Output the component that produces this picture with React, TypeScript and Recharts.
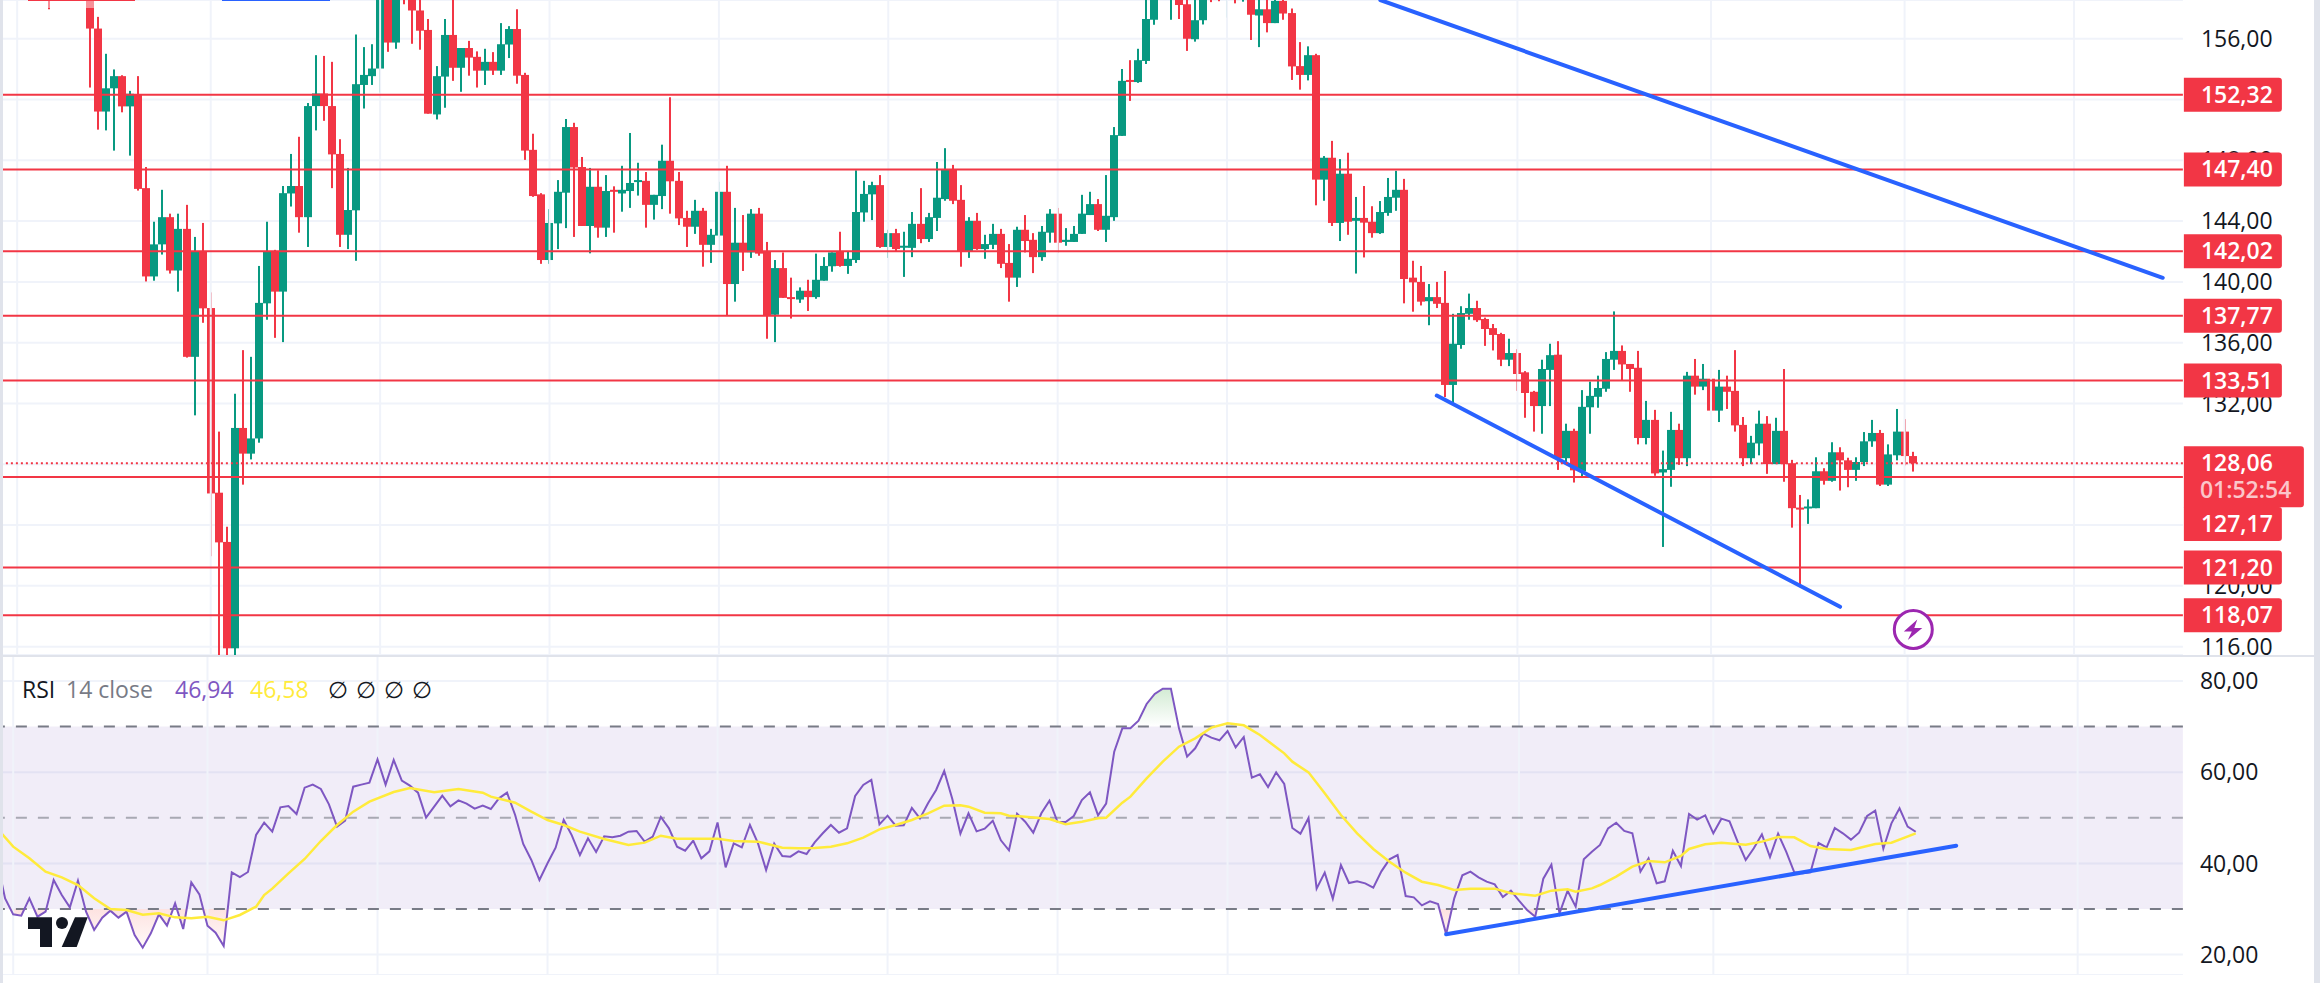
import React from 'react';
import { Area, Bar, CartesianGrid, ComposedChart, Line, ReferenceArea, ReferenceLine, XAxis, YAxis } from 'recharts';

const n = null;

// candles, first one is the faded stub at the top left
const candleOpen = [
  159.4,n,n,n,n,158.6,156.67,151.21,152.74,153.54,
  151.55,152.32,146.17,140.36,142.47,144.26,140.75,143.49,135.07,142.0,
  138.28,126.13,122.89,115.89,130.39,128.7,129.7,138.59,142.0,139.36,
  145.82,146.31,144.26,151.57,152.4,151.57,148.42,143.1,144.71,152.96,
  153.54,154.04,159.0,155.75,159.2,159.2,157.86,156.58,151.02,153.51,
  156.25,154.09,155.39,154.81,153.9,154.48,153.9,155.62,156.64,153.62,
  148.69,145.76,141.44,143.85,145.87,150.19,147.56,143.68,146.26,143.57,
  146.06,145.82,145.98,146.62,146.65,145.07,145.65,147.97,146.65,144.21,
  143.63,144.68,142.44,143.05,145.93,139.86,142.58,141.94,144.49,142.0,
  137.84,140.91,139.0,138.84,139.42,139.0,140.08,141.03,142.0,141.05,
  141.44,144.57,145.76,146.37,142.3,143.21,142.3,142.24,143.82,142.82,
  144.21,145.45,147.42,145.4,142.0,144.02,142.16,142.44,143.16,141.25,
  140.28,143.43,142.77,141.63,143.24,144.49,142.63,142.63,143.16,144.4,
  145.12,143.43,144.26,149.61,153.29,153.15,154.54,157.25,n,158.9,
  158.9,158.27,155.97,157.22,159.2,159.2,158.6,159.2,158.6,159.0,
  157.53,157.94,157.03,158.49,157.69,154.2,153.62,154.92,146.73,148.17,
  143.88,147.12,144.02,144.21,143.96,143.21,144.54,145.54,146.06,140.28,
  140.0,138.73,139.0,138.62,133.22,135.85,137.9,138.28,137.56,136.96,
  136.57,134.88,135.32,134.05,132.77,131.83,134.21,135.21,128.4,130.2,
  127.54,131.75,132.44,132.97,134.88,135.46,134.6,134.35,129.73,130.92,
  127.46,127.63,130.26,128.4,133.83,133.11,133.63,131.53,133.11,132.83,
  130.59,128.4,129.37,130.67,128.01,130.2,128.07,125.15,125.11,125.11,
  127.54,126.91,128.79,128.26,127.63,128.15,129.51,130.06,126.66,128.59,
  130.15,128.54,
];
const candleHigh = [
  159.6,n,n,n,n,159,157.44,155.01,153.98,153.6,
  152.57,153.54,147.56,143.96,146.06,144.49,144.49,145.07,142.96,143.88,
  139.31,130.15,123.89,132.64,135.51,135.07,141.05,143.96,142.11,146.31,
  148.42,149.55,151.77,154.92,154.87,154.48,149.39,147.5,156.28,155.45,
  155.64,159.4,159.4,159.3,159.4,159.5,158.55,157.3,154.2,157.3,
  158.9,155.39,155.86,155.17,155.34,155.12,157.03,156.83,157.94,153.76,
  149.75,145.84,144.79,146.7,150.72,150.47,148.22,147.5,147.34,147.03,
  146.29,147.64,149.8,147.84,147.23,145.73,149.03,152.15,147.23,144.68,
  145.4,144.87,143.49,146.59,147.64,144.87,144.4,144.79,144.87,142.63,
  141.44,141.94,140.28,139.64,140.14,141.86,141.63,141.94,143.3,142.0,
  147.34,146.65,146.59,147.03,143.43,143.49,143.3,144.6,146.17,144.54,
  147.89,148.8,147.7,146.37,144.26,144.54,143.1,143.82,143.49,142.49,
  143.63,144.4,143.21,143.68,144.79,144.87,143.54,143.68,145.73,145.93,
  145.45,147.03,150.19,154.01,154.59,155.34,158.7,159.2,n,159.5,
  159.3,159,158.9,159,159.4,159.4,159.4,159.4,159.4,159.3,
  158.9,158.9,158.9,158.9,157.99,155.78,155.5,155.01,148.28,149.28,
  148.08,148.5,145.59,146.31,144.98,145.32,146.84,147.31,146.78,141.39,
  141.05,139.86,140.0,140.72,137.9,138.4,139.23,138.76,137.65,137.23,
  136.65,136.26,135.57,134.13,132.83,134.88,135.93,136.1,130.67,130.34,
  132.88,133.44,133.83,135.38,138.06,135.82,134.6,135.46,132.17,131.58,
  128.9,131.45,130.67,134.08,134.93,134.6,134.33,134.21,133.83,135.51,
  131.11,129.87,131.53,131.17,131.06,134.27,128.29,125.98,125.69,128.46,
  127.74,129.45,129.12,128.43,128.46,130.12,130.92,130.26,129.31,131.64,
  130.97,128.82,
];
const candleLow = [
  157.94,n,n,n,n,152.79,150.02,149.97,148.64,151.16,
  148.31,146.01,140.03,140.08,141.8,140.55,139.36,135.02,131.22,137.31,
  121.95,115.2,115.2,115.2,126.66,128.32,129.42,137.51,136.32,136.04,
  144.96,143.24,142.3,149.97,150.6,146.17,142.3,142.16,141.39,151.41,
  152.96,152.46,155.14,155.34,158.27,155.67,155.28,151.07,150.69,151.46,
  153.23,152.51,153.57,152.79,152.96,153.62,153.62,154.73,153.04,148.03,
  145.6,141.19,141.19,142.16,143.54,142.96,143.68,141.88,142.91,142.96,
  143.24,144.62,144.87,145.68,143.57,144.1,144.79,144.49,143.74,142.3,
  143.16,141.0,141.25,142.0,137.79,138.7,140.72,141.58,141.72,136.26,
  136.04,138.95,137.59,138.62,138.09,138.89,140.08,140.67,141.0,140.53,
  141.25,143.96,144.07,142.24,141.58,142.02,140.33,141.63,142.55,142.63,
  143.35,145.34,145.12,141.0,141.58,142.11,141.52,142.16,140.91,138.7,
  139.67,141.94,140.58,141.39,142.58,141.94,142.38,142.63,143.16,144.4,
  143.35,142.63,144.02,149.61,151.91,153.1,154.34,156.92,n,157.25,
  157.3,155.2,155.81,156.94,158.41,158.47,157.39,158.33,158.44,155.92,
  155.45,156.42,157.03,157.25,153.29,152.65,153.26,145.04,145.34,143.68,
  142.69,143.1,140.55,141.61,142.91,143.16,144.35,144.68,138.59,138.04,
  138.45,137.15,138.28,132.42,132.03,135.6,137.51,137.37,135.79,135.49,
  134.46,134.46,132.83,131.06,130.15,130.01,131.83,127.63,128.15,126.8,
  127.18,130.01,131.72,132.77,134.21,133.49,132.77,129.31,129.31,127.24,
  122.56,126.52,127.96,127.88,132.58,132.88,131.25,130.78,131.64,130.15,
  127.88,128.01,128.59,127.37,128.01,126.85,123.83,120.06,124.08,125.11,
  126.66,126.85,126.27,126.49,126.91,127.88,129.15,126.57,126.57,128.26,
  127.93,127.52,
];
const candleClose = [
  158.9,n,n,n,n,156.67,151.21,152.74,153.54,151.55,
  152.38,146.12,140.36,142.47,144.26,140.75,143.49,135.07,142.0,138.26,
  126.08,122.86,115.89,130.39,128.7,129.7,138.62,142.0,139.36,145.84,
  146.31,144.26,151.57,152.4,151.57,148.39,143.1,144.73,153.01,153.62,
  154.04,158.9,155.75,159.0,158.8,157.86,156.53,151.07,153.54,156.25,
  154.09,155.39,154.76,153.9,154.48,153.9,155.64,156.64,153.57,148.64,
  145.65,141.44,143.88,145.93,150.19,147.53,143.68,146.26,143.57,145.98,
  145.95,146.06,146.51,146.7,145.07,145.73,147.97,146.62,144.18,143.63,
  144.68,142.44,143.1,145.93,139.86,142.58,141.94,144.49,141.86,137.79,
  140.91,138.95,138.87,139.42,139.0,140.14,141.05,141.94,141.05,141.52,
  144.6,145.79,146.37,142.3,143.21,142.16,142.38,143.82,142.82,144.26,
  145.54,147.42,145.34,142.0,144.02,142.16,142.49,143.16,141.19,140.28,
  143.43,142.69,141.63,143.3,144.49,142.58,142.77,143.16,144.49,145.12,
  143.43,144.35,149.66,153.23,153.18,154.59,157.3,158.8,n,159.4,
  158.22,156.0,157.22,158.55,158.8,158.8,159.0,158.8,159.0,157.58,
  157.94,157.03,158.49,157.66,154.18,153.62,154.92,146.73,148.17,143.88,
  147.12,143.96,144.21,143.9,143.21,144.6,145.59,146.06,140.19,139.97,
  138.7,139.0,138.56,133.22,135.93,137.95,138.28,137.48,136.9,136.51,
  134.88,135.32,133.94,132.69,131.83,134.27,135.18,128.4,130.2,127.6,
  131.78,132.5,133.02,134.93,135.46,134.57,134.27,129.73,130.92,127.4,
  127.68,130.26,128.4,133.83,133.11,133.63,131.53,133.11,132.77,130.56,
  128.4,129.42,130.67,128.01,130.2,128.01,125.11,125.08,125.22,127.54,
  126.91,128.79,128.26,127.63,128.15,129.51,130.06,126.66,128.65,130.15,
  128.54,128.06,
];

// rsi starts six slots before the first candle
const rsiValues = [
  40.53,32.34,28.83,28.54,32.34,28.32,
  29.42,36.36,33.07,30.37,36.21,29.42,25.4,28.1,29.64,28.1,
  29.42,24.3,21.52,24.67,28.83,26.35,31.24,25.62,35.85,33.22,
  26.35,24.81,21.89,38.04,37.02,38.12,46.23,48.93,46.96,52.3,
  52.59,50.83,56.61,57.27,56.32,52.95,48.06,49.37,56.83,57.27,
  57.71,62.82,57.27,62.68,58.14,57.05,55.51,50.03,52.44,54.85,
  52.52,53.83,53.1,52.0,52.66,51.93,54.27,55.51,50.62,44.26,
  40.75,36.36,40.02,43.45,49.52,46.16,41.84,45.5,42.5,45.94,
  45.72,46.08,46.96,47.11,44.77,45.86,50.18,47.69,43.67,42.79,
  44.99,41.11,42.65,48.99,39.14,44.4,43.52,48.42,44.4,38.55,
  44.33,41.62,41.48,42.65,42.06,44.62,46.6,48.42,46.74,47.69,
  54.78,57.19,58.29,48.57,50.47,48.28,48.35,52.15,49.88,53.17,
  56.1,60.26,54.12,46.52,50.98,47.03,47.62,49.37,45.06,42.87,
  50.91,49.15,46.74,50.98,53.76,49.08,49.08,50.4,53.9,55.59,
  50.54,53.1,64.5,69.62,69.62,71.3,74.96,77.15,78.32,78.32,
  69.62,63.41,65.24,68.45,67.57,66.99,69.04,65.45,67.72,58.8,
  59.53,56.76,59.97,57.41,47.76,46.52,49.96,34.46,37.97,32.27,
  39.65,35.7,36.07,35.63,34.68,38.26,40.89,41.84,32.85,32.56,
  30.8,31.68,31.1,24.45,32.34,37.38,38.19,36.95,35.99,35.41,
  32.63,34.02,31.83,29.78,28.32,36.65,39.72,29.05,34.02,30.51,
  40.89,42.57,44.04,47.69,48.93,47.11,46.6,38.19,41.11,35.63,
  36.07,42.79,39.43,50.83,49.59,50.54,46.6,49.81,49.23,44.77,
  40.75,43.31,46.38,41.4,46.52,42.57,38.04,37.82,38.04,44.47,
  43.52,47.76,46.6,45.21,46.74,50.4,51.57,43.23,48.79,52.08,
  48.06,46.94,
];

// rsi moving average, read at the slots below and joined with straight lines
const rsiMaSlots = [
  -6,-4,-2,0,2,4,6,8,10,12,14,16,18,20,22,24,26,27,28,30,32,34,36,38,40,43,45,48,51,54,55,58,60,62,64,66,69,72,74,76,78,81,83,85,88,91,93,
  95,97,99,101,103,105,107,109,111,113,114,116,118,119,121,124,126,128,130,131,133,134,136,138,140,142,144,146,148,150,153,154,156,158,160,162,164,166,168,170,172,174,176,179,181,184,186,188,189,191,192,
  194,196,198,200,202,203,205,207,210,212,214,216,218,220,223,226,228,231,
];
const rsiMaValues = [
  47.69,43.67,41.11,38.19,36.95,35.26,32.34,30.0,29.78,28.76,29.05,28.17,27.95,28.32,27.52,28.69,30.51,33.07,34.46,37.82,40.97,44.91,48.42,51.35,53.54,55.66,56.54,55.59,56.32,55.51,54.64,53.32,51.35,49.52,48.42,46.96,45.35,44.04,44.55,46.08,45.43,45.43,45.43,44.91,44.77,43.45,43.31,
  43.38,43.67,44.4,45.64,47.47,48.42,49.52,50.98,52.66,52.74,52.44,51.13,50.98,50.47,50.25,49.74,48.57,49.15,49.88,50.03,53.32,54.64,58.66,62.31,65.6,67.43,69.77,70.72,70.28,68.16,64.14,62.31,59.97,55.37,50.62,46.6,43.16,40.38,37.97,35.99,35.26,34.17,34.46,34.46,33.44,32.93,34.02,34.31,33.8,34.53,35.26,
  37.09,39.29,40.53,40.24,41.62,43.16,44.18,44.55,44.11,44.77,45.79,45.72,43.82,43.16,42.94,44.26,44.55,46.58,
];

const priceTicks = [116, 120, 124, 128, 132, 136, 140, 144, 148, 152, 156];
// these three sit fully behind the price tags in the reference
const hiddenPriceTicks = [124, 128, 152];
const rsiTicks = [20, 40, 60, 80];
const gridSlots = [-4, 20, 41, 62, 83, 104, 125, 146, 182, 206, 230, 251];
const priceLevels = [152.32, 147.4, 142.02, 137.77, 133.51, 121.2, 118.07];
const nearLevel = 127.17;
const lastPrice = 128.06;
const countdown = '01:52:54';

const RED = '#f23645';
const GREEN = '#089981';
const BLUE = '#2962ff';
const GRID = '#f0f3fa';
const FONT = '"Open Sans", sans-serif';
const SLOT = 8.066;
const LEAD = 6;
const TOTAL_SLOTS = 271;
const PRICE_DOMAIN = [115.45, 158.55];
const CHART_LEFT = 49.75 - (LEAD + 0.5) * SLOT;
const CHART_WIDTH = 2320 - CHART_LEFT;
const AXIS_WIDTH = CHART_WIDTH - TOTAL_SLOTS * SLOT;

const fmt = (v: number) => v.toFixed(2).replace('.', ',');

const priceRows = Array.from({ length: TOTAL_SLOTS }, (_, i) => {
  const k = i - LEAD;
  return {
    slot: k,
    open: candleOpen[k] ?? null,
    high: candleHigh[k] ?? null,
    low: candleLow[k] ?? null,
    close: candleClose[k] ?? null,
  };
});

const rsiRows = Array.from({ length: TOTAL_SLOTS }, (_, i) => {
  const maAt = rsiMaSlots.indexOf(i - LEAD);
  return {
    slot: i - LEAD,
    rsi: rsiValues[i] ?? null,
    ma: maAt >= 0 ? rsiMaValues[maAt] : null,
  };
});

function Candle(props: any) {
  const { x, y, width, height, payload } = props;
  const { open, high, low, close } = payload;
  if (high == null) return <g />;
  const perUnit = height / (high - low);
  const top = y + (high - Math.max(open, close)) * perUnit;
  const bodyH = Math.max(2, Math.abs(open - close) * perUnit);
  const color = close >= open ? GREEN : RED;
  const mid = x + width / 2;
  return (
    <g fill={color}>
      <rect x={Math.round(mid) - 1} y={y} width={2} height={height} />
      <rect x={Math.round(mid - 4)} y={top} width={8} height={bodyH} />
    </g>
  );
}

function PriceTag(props: any) {
  const { viewBox, text, nudge = 0, sub } = props;
  if (!viewBox) return null;
  const left = viewBox.x + viewBox.width + 1;
  const w = sub ? 120 : 98;
  const top = viewBox.y + nudge - 17;
  const h = sub ? 61 : 34;
  const r = 3;
  return (
    <g style={{ fontFamily: FONT, fontSize: 23, fontWeight: 600 }}>
      <path
        d={`M${left} ${top}h${w - r}q${r} 0 ${r} ${r}v${h - 2 * r}q0 ${r} ${-r} ${r}h${-(w - r)}z`}
        fill={RED}
      />
      <text x={left + 17} y={top + 25} fill="#ffffff">{text}</text>
      {sub && <text x={left + 16} y={top + 52} fill="#ffffff" fillOpacity={0.72}>{sub}</text>}
    </g>
  );
}

function PricePane() {
  return (
    <ComposedChart
      width={CHART_WIDTH}
      height={655}
      data={priceRows}
      margin={{ top: 0, right: 0, bottom: 0, left: 0 }}
      barCategoryGap={0}
    >
      <CartesianGrid vertical={false} stroke={GRID} strokeWidth={2} />
      <XAxis dataKey="slot" hide />
      <YAxis
        orientation="right"
        width={AXIS_WIDTH}
        domain={PRICE_DOMAIN}
        allowDataOverflow
        ticks={priceTicks}
        interval={0}
        axisLine={false}
        tickLine={false}
        tickSize={0}
        tickMargin={18}
        tickFormatter={(v: number) => (hiddenPriceTicks.includes(v) ? '' : fmt(v))}
        tick={{ fill: '#131722', fontSize: 23, fontFamily: FONT }}
      />
      {gridSlots.map((s) => (
        <ReferenceLine key={s} x={s} stroke={GRID} strokeWidth={2} />
      ))}
      <ReferenceLine y={nearLevel} stroke={RED} strokeWidth={2} />
      {priceLevels.map((p) => (
        <ReferenceLine key={p} y={p} stroke={RED} strokeWidth={2} />
      ))}
      <ReferenceLine
        segment={[{ x: 165, y: 158.55 }, { x: 262, y: 140.27 }]}
        stroke={BLUE}
        strokeWidth={4}
        strokeLinecap="round"
        ifOverflow="visible"
      />
      <ReferenceLine
        segment={[{ x: 172, y: 132.52 }, { x: 222, y: 118.62 }]}
        stroke={BLUE}
        strokeWidth={4}
        strokeLinecap="round"
        ifOverflow="visible"
      />
      <Bar dataKey={(d: any) => (d.high == null ? null : [d.low, d.high])} shape={<Candle />} isAnimationActive={false} />
      <ReferenceLine y={lastPrice} stroke={RED} strokeWidth={2} strokeDasharray="2 3" />
    </ComposedChart>
  );
}

// second chart on the same scale, only so the tags cover the axis numbers
function PriceTags() {
  return (
    <ComposedChart
      width={CHART_WIDTH}
      height={655}
      data={priceRows}
      margin={{ top: 0, right: AXIS_WIDTH, bottom: 0, left: 0 }}
    >
      <XAxis dataKey="slot" hide />
      <YAxis hide domain={PRICE_DOMAIN} allowDataOverflow />
      <ReferenceLine y={lastPrice} stroke="none" label={<PriceTag text={fmt(lastPrice)} sub={countdown} />} />
      <ReferenceLine y={nearLevel} stroke="none" label={<PriceTag text={fmt(nearLevel)} nudge={47} />} />
      {priceLevels.map((p) => (
        <ReferenceLine key={p} y={p} stroke="none" label={<PriceTag text={fmt(p)} />} />
      ))}
    </ComposedChart>
  );
}

function RsiPane() {
  const h = 319;
  return (
    <ComposedChart
      width={CHART_WIDTH}
      height={h}
      data={rsiRows}
      margin={{ top: 0, right: 0, bottom: 0, left: 0 }}
    >
      <defs>
        <linearGradient id="rsiZones" gradientUnits="userSpaceOnUse" x1="0" y1="0" x2="0" y2={h}>
          <stop offset={25 / h} stopColor="#4caf50" stopOpacity={0.3} />
          <stop offset={70 / h} stopColor="#4caf50" stopOpacity={0} />
          <stop offset={253 / h} stopColor="#f44336" stopOpacity={0} />
          <stop offset={253.5 / h} stopColor="#f44336" stopOpacity={0.15} />
          <stop offset={300 / h} stopColor="#f44336" stopOpacity={0} />
        </linearGradient>
      </defs>
      <CartesianGrid vertical={false} stroke={GRID} strokeWidth={2} />
      <XAxis dataKey="slot" hide />
      <YAxis
        orientation="right"
        width={AXIS_WIDTH}
        domain={[15.53, 85.48]}
        allowDataOverflow
        ticks={rsiTicks}
        interval={0}
        axisLine={false}
        tickLine={false}
        tickSize={0}
        tickMargin={17}
        tickFormatter={fmt}
        tick={{ fill: '#131722', fontSize: 23, fontFamily: FONT }}
      />
      <ReferenceArea y1={30} y2={70} fill="#7e57c2" fillOpacity={0.11} stroke="none" />
      {gridSlots.map((s) => (
        <ReferenceLine key={s} x={s} stroke={GRID} strokeWidth={2} />
      ))}
      <ReferenceLine y={70} stroke="#787b86" strokeWidth={2} strokeDasharray="11 11" />
      <ReferenceLine y={50} stroke="#787b86" strokeOpacity={0.6} strokeWidth={2} strokeDasharray="11 11" />
      <ReferenceLine y={30} stroke="#787b86" strokeWidth={2} strokeDasharray="11 11" />
      <Area dataKey="rsi" baseValue={50} fill="url(#rsiZones)" fillOpacity={1} stroke="none" dot={false} activeDot={false} isAnimationActive={false} />
      <Line dataKey="rsi" stroke="#7e57c2" strokeWidth={2} dot={false} activeDot={false} isAnimationActive={false} />
      <Line dataKey="ma" connectNulls stroke="#ffeb3b" strokeWidth={2.5} dot={false} activeDot={false} isAnimationActive={false} />
      <ReferenceLine
        segment={[{ x: 173, y: 24.45 }, { x: 236, y: 43.89 }]}
        stroke={BLUE}
        strokeWidth={4}
        strokeLinecap="round"
        ifOverflow="visible"
      />
    </ComposedChart>
  );
}

function RsiLegend() {
  const at = (left: number, color: string, text: string) => (
    <span style={{ position: 'absolute', left, top: 673, color, fontFamily: FONT, fontSize: 23, lineHeight: '32px', whiteSpace: 'nowrap' }}>
      {text}
    </span>
  );
  return (
    <>
      {at(22, '#131722', 'RSI')}
      {at(66, '#787b86', '14 close')}
      {at(175, '#7e57c2', '46,94')}
      {at(250, '#ffeb3b', '46,58')}
      {at(328, '#131722', '∅')}
      {at(356, '#131722', '∅')}
      {at(384, '#131722', '∅')}
      {at(412, '#131722', '∅')}
    </>
  );
}

function Overlays() {
  return (
    <svg width={2320} height={983} style={{ position: 'absolute', left: 0, top: 0, pointerEvents: 'none' }}>
      {/* edges of the toolbars cut off at the top */}
      <rect x={29} y={0} width={106} height={8} fill="#ffffff" fillOpacity={0.45} />
      <rect x={28} y={0} width={107} height={1} fill={RED} />
      <rect x={222} y={0} width={108} height={1} fill={BLUE} />
      {/* watermark */}
      <g fill="#131722">
        <path d="M28 917.3H52V947H40V929H28Z" />
        <circle cx={62} cy={923} r={6} />
        <path d="M75 917.3H87.7L76.7 947H61.7Z" />
      </g>
      {/* bolt badge */}
      <g transform="translate(1913.3 629.5)">
        <circle r={19} fill="#ffffff" stroke="#9c27b0" strokeWidth={3} />
        <path d="M4 -10L-9.5 2H-1.5L-5.5 10.5L9 -1.5H1Z" fill="#9c27b0" />
      </g>
    </svg>
  );
}

export default function App() {
  return (
    <div style={{ position: 'absolute', left: 0, top: 0, width: 2320, height: 983, overflow: 'hidden', background: '#ffffff' }}>
      <div style={{ position: 'absolute', left: CHART_LEFT, top: 0 }}>
        <PricePane />
      </div>
      <div style={{ position: 'absolute', left: CHART_LEFT, top: 656 }}>
        <RsiPane />
      </div>
      <RsiLegend />
      <Overlays />
      <div style={{ position: 'absolute', left: CHART_LEFT, top: 0, pointerEvents: 'none' }}>
        <PriceTags />
      </div>
      <div style={{ position: 'absolute', left: 0, top: 0, width: 3, height: 983, background: '#e0e3eb' }} />
      <div style={{ position: 'absolute', left: 2314, top: 0, width: 6, height: 983, background: '#e0e3eb' }} />
      <div style={{ position: 'absolute', left: 3, top: 655, width: 2311, height: 2, background: '#e0e3eb' }} />
    </div>
  );
}
